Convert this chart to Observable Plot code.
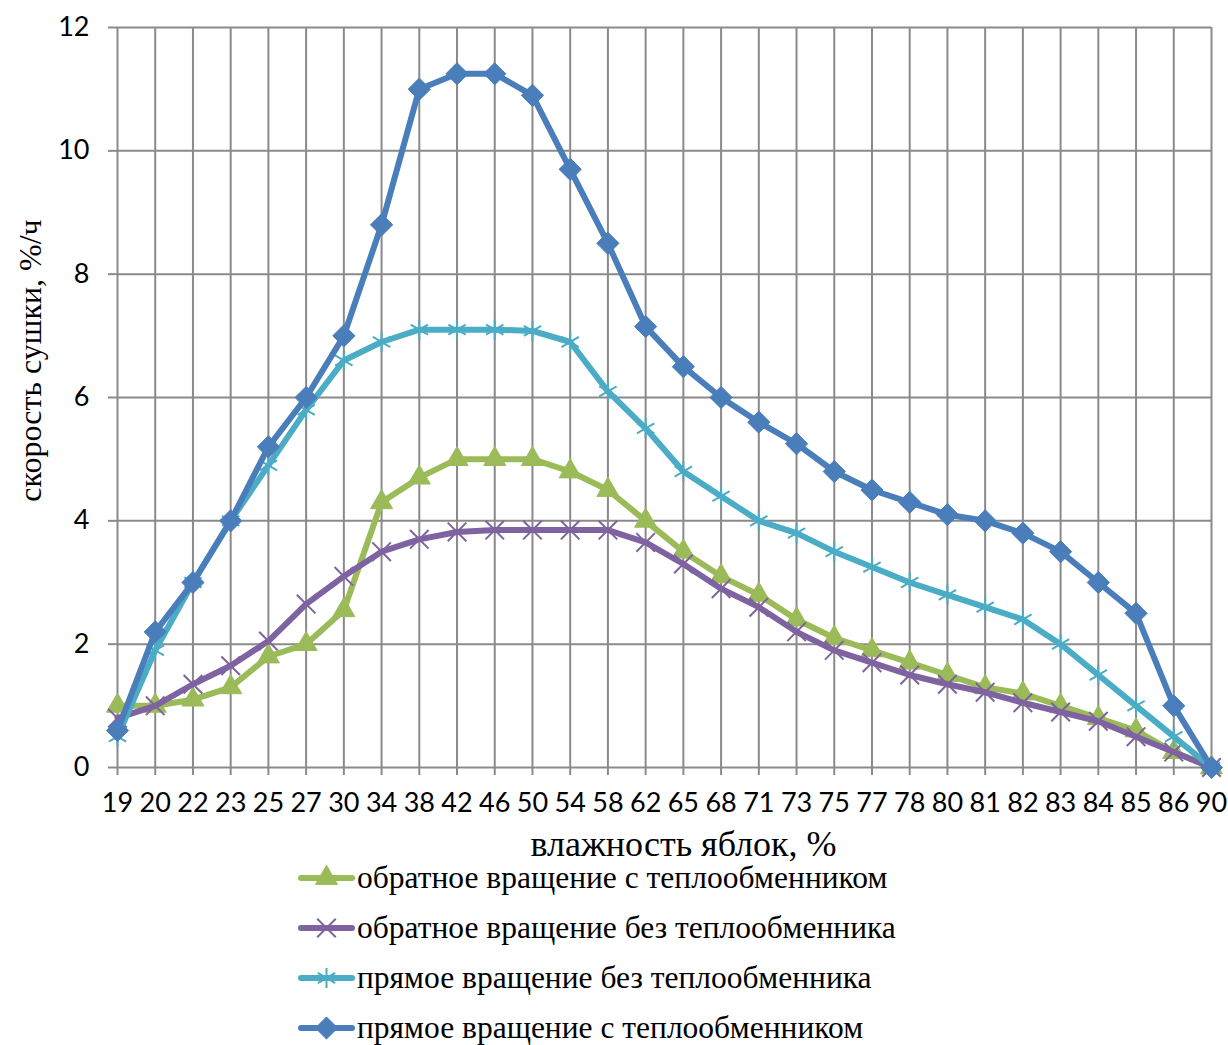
<!DOCTYPE html>
<html><head><meta charset="utf-8">
<script src="https://cdn.jsdelivr.net/npm/d3@7"></script>
<script src="https://cdn.jsdelivr.net/npm/@observablehq/plot@0.6"></script>
<style>
html,body{margin:0;background:#fff;overflow:hidden;}
#chart{width:1228px;}
#chart > svg{display:block;max-width:none;}
.legend{margin-top:-17px;}
.row{height:50px;display:flex;align-items:center;font-family:"Liberation Serif",serif;font-size:31.5px;line-height:1;color:#000;white-space:nowrap;}
.row svg{margin-left:298px;margin-right:2px;display:block}
</style></head><body>
<div id="chart"></div>
<script>
// Categories (apple moisture, %)
const moisture = ["19","20","22","23","25","27","30","34","38","42","46","50","54","58","62","65","68","71","73","75","77","78","80","81","82","83","84","85","86","90"];
const yTicks = [0, 2, 4, 6, 8, 10, 12];

// Series names
const seriesNames = [
  "обратное вращение с теплообменником",
  "обратное вращение без теплообменника",
  "прямое вращение без теплообменника",
  "прямое вращение с теплообменником"
];

// Drying rate, %/h
const reverseWithHX    = [1.0,1.0,1.1,1.3,1.8,2.0,2.55,4.3,4.7,5.0,5.0,5.0,4.8,4.5,4.0,3.5,3.1,2.8,2.4,2.1,1.9,1.7,1.5,1.3,1.2,1.0,0.8,0.6,0.25,0];
const reverseWithoutHX = [0.8,1.0,1.35,1.65,2.05,2.65,3.1,3.5,3.7,3.82,3.85,3.85,3.85,3.85,3.65,3.3,2.9,2.6,2.2,1.9,1.7,1.5,1.35,1.22,1.05,0.9,0.75,0.5,0.25,0];
const directWithoutHX  = [0.5,1.9,3.0,4.0,4.9,5.8,6.6,6.9,7.1,7.1,7.1,7.08,6.9,6.1,5.5,4.8,4.4,4.0,3.8,3.5,3.25,3.0,2.8,2.6,2.4,2.0,1.5,1.0,0.5,0];
const directWithHX     = [0.6,2.2,3.0,4.0,5.2,6.0,7.0,8.8,11.0,11.25,11.25,10.9,9.7,8.5,7.15,6.5,6.0,5.6,5.25,4.8,4.5,4.3,4.1,4.0,3.8,3.5,3.0,2.5,1.0,0];

const colors = ["#9bbb59", "#7f63a1", "#4bacc6", "#4a7ebb"];
const symbols = ["triangle", "times", "asterisk", "diamond2"];
const filled = [true, false, false, true];
const radii = [8.2, 8.5, 9.5, 10];
const values = [reverseWithHX, reverseWithoutHX, directWithoutHX, directWithHX];

// x is the category index; tick labels come from `moisture`
const idx = moisture.map((_, j) => j);
const series = values.map((vals, i) => moisture.map((m, j) => ({i: j, m, v: vals[j], s: seriesNames[i]})));

const grid = {stroke: "#8a8a8a", strokeOpacity: 1, strokeWidth: 2};
const marks = [
  Plot.gridX(idx, grid),
  Plot.gridY(yTicks, grid),
  Plot.axisX(idx, {tickSize: 8, tickPadding: 17, stroke: "#8a8a8a", strokeWidth: 2, label: null, tickFormat: j => moisture[j]}),
  Plot.axisY(yTicks, {tickSize: 9, tickPadding: 19, stroke: "#8a8a8a", strokeWidth: 2, label: null, tickFormat: d3.format("d")}),
  Plot.text(["влажность яблок, %"], {text: d => d, frameAnchor: "bottom", textAnchor: "middle", dx: 19, dy: 88, fontFamily: "Liberation Serif", fontSize: 36, fill: "#000"}),
  Plot.text(["скорость сушки, %/ч"], {text: d => d, frameAnchor: "left", textAnchor: "middle", rotate: -90, dx: -87, dy: -37, fontFamily: "Liberation Serif", fontSize: 32, fill: "#000"})
];
series.forEach((data, i) => {
  marks.push(Plot.line(data, {x: "i", y: "v", stroke: colors[i], strokeWidth: 6, strokeLinejoin: "round", strokeLinecap: "round"}));
  marks.push(Plot.dot(data, filled[i]
    ? {x: "i", y: "v", symbol: symbols[i], r: radii[i], fill: colors[i], stroke: colors[i], strokeWidth: 1}
    : {x: "i", y: "v", symbol: symbols[i], r: radii[i], fill: "none", stroke: colors[i], strokeWidth: 2}));
});

const plot = Plot.plot({
  width: 1228,
  height: 870,
  marginLeft: 117,
  marginRight: 17,
  marginTop: 27,
  marginBottom: 103,
  style: {fontFamily: "Lato, sans-serif", fontSize: "27px", color: "#000", background: "#fff"},
  x: {type: "linear", domain: [0, moisture.length - 1]},
  y: {domain: [0, 12]},
  marks
});
document.getElementById("chart").appendChild(plot);

// Legend
const legend = document.createElement("div");
legend.className = "legend";
const symMap = {triangle: d3.symbolTriangle, times: d3.symbolTimes, asterisk: d3.symbolAsterisk, diamond2: d3.symbolDiamond2};
seriesNames.forEach((name, i) => {
  const row = document.createElement("div");
  row.className = "row";
  const svg = d3.create("svg").attr("width", 57).attr("height", 30);
  svg.append("line").attr("x1", 3).attr("x2", 54).attr("y1", 15).attr("y2", 15)
    .attr("stroke", colors[i]).attr("stroke-width", 6).attr("stroke-linecap", "round");
  const size = Math.PI * radii[i] * radii[i];
  svg.append("path").attr("transform", "translate(28.5,15)")
    .attr("d", d3.symbol(symMap[symbols[i]], size)())
    .attr("fill", filled[i] ? colors[i] : "none")
    .attr("stroke", colors[i]).attr("stroke-width", filled[i] ? 1 : 2);
  row.appendChild(svg.node());
  const span = document.createElement("span");
  span.textContent = name;
  row.appendChild(span);
  legend.appendChild(row);
});
document.getElementById("chart").appendChild(legend);
</script>
</body></html>
